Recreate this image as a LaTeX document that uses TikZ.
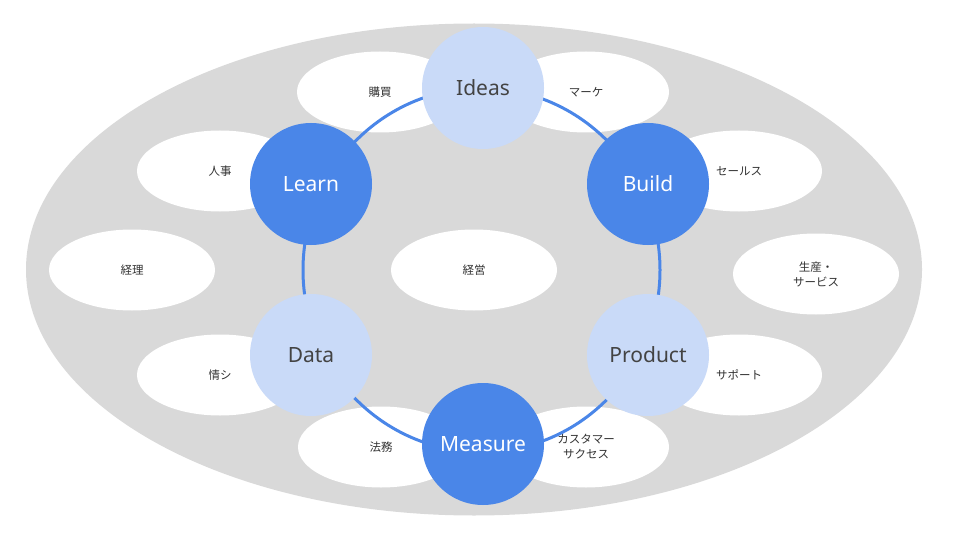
\documentclass[tikz,border=0pt]{standalone}
\usepackage{fontspec}
\setmainfont{Noto Sans}
\newfontfamily\jpfont{Noto Sans CJK JP}
\usetikzlibrary{shapes.geometric}
\definecolor{bggray}{HTML}{D9D9D9}
\definecolor{lightblue}{HTML}{C9DAF8}
\definecolor{darkblue}{HTML}{4A86E8}
\definecolor{labelgray}{HTML}{434343}
\definecolor{jptext}{HTML}{333333}
\begin{document}
\begin{tikzpicture}[x=1pt,y=-1pt,
  dept/.style={ellipse,fill=white,minimum width=166pt,minimum height=81pt,inner sep=0pt,
    font=\jpfont\fontsize{11.5}{15}\selectfont,text=jptext,align=center},
  lightnode/.style={circle,fill=lightblue,minimum size=122pt,inner sep=0pt,
    font=\fontsize{21}{24}\selectfont,text=labelgray},
  darknode/.style={circle,fill=darkblue,minimum size=122pt,inner sep=0pt,
    font=\fontsize{21}{24}\selectfont,text=white},
  ring/.style={draw=darkblue,line width=3pt}
]
\useasboundingbox (0,0) rectangle (960,540);
% background
\fill[bggray] (474,269.5) ellipse [x radius=448pt, y radius=246pt];
% departments
\node[dept] (koubai) at (380,92) {購買};
\node[dept] (marke) at (586,92) {マーケ};
\node[dept] (jinji) at (220,171) {人事};
\node[dept] (sales) at (739,171) {セールス};
\node[dept] (keiri) at (132,270) {経理};
\node[dept] (keiei) at (474,270) {経営};
\node[dept] (seisan) at (816,274) {生産・\\サービス};
\node[dept] (joshi) at (220,375) {情シ};
\node[dept] (support) at (739,375) {サポート};
\node[dept] (houmu) at (381,447) {法務};
\node[dept] (cs) at (586,447) {カスタマー\\サクセス};
% ring
\coordinate (ringc) at (481.5,270);
\draw[ring] (ringc) ellipse [x radius=178.5pt, y radius=182pt];
% cycle nodes
\node[lightnode] (ideas) at (483,88) {Ideas};
\node[darknode] (learn) at (311,184) {Learn};
\node[darknode] (build) at (648,184) {Build};
\node[lightnode] (data) at (311,355) {Data};
\node[lightnode] (product) at (648,355) {Product};
\node[darknode] (measure) at (483,444) {Measure};
\end{tikzpicture}
\end{document}
